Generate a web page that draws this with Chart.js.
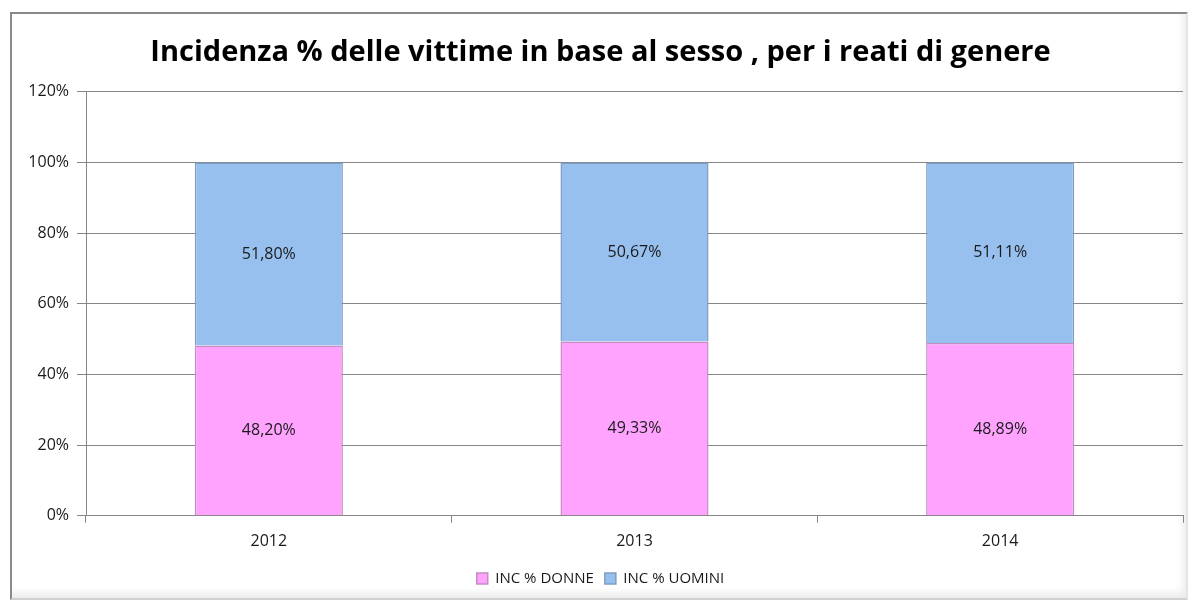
<!DOCTYPE html>
<html>
<head>
<meta charset="utf-8">
<script src="https://cdn.jsdelivr.net/npm/chart.js@4"></script>
<style>
  body { margin: 0; background: #fff; }
  #wrap { position: relative; width: 1198px; height: 604px; }
  #frame {
    position: absolute; left: 10px; top: 12px; width: 1174px; height: 584px;
    border: 2px solid #8a8a8a; border-right-color: #e4e4e4; border-bottom-color: #d0d0d0;
    box-shadow: inset -8px -10px 10px -6px #e8e8e8;
  }
  canvas { position: absolute; left: 0; top: 0; }
</style>
</head>
<body>
<div id="wrap">
  <div id="frame"></div>
  <canvas id="myChart" width="1198" height="604"></canvas>
</div>
<script>
// dati
var anni = ['2012', '2013', '2014'];
var incDonne = [48.20, 49.33, 48.89];
var incUomini = [51.80, 50.67, 51.11];
var tickY = [0, 20, 40, 60, 80, 100, 120];

// etichette dentro le barre
var etichette = {
  id: 'etichette',
  afterDatasetsDraw: function(chart) {
    var ctx = chart.ctx;
    ctx.save();
    ctx.font = '16px "Open Sans", sans-serif';
    ctx.fillStyle = '#1a1a1a';
    ctx.textAlign = 'center';
    ctx.textBaseline = 'middle';
    chart.data.datasets.forEach(function(ds, i) {
      chart.getDatasetMeta(i).data.forEach(function(bar, j) {
        var mid = (bar.y + bar.base) / 2;
        ctx.fillText(ds.data[j].toFixed(2).replace('.', ',') + '%', bar.x, mid);
      });
    });
    ctx.restore();
  }
};

new Chart(document.getElementById('myChart'), {
  type: 'bar',
  data: {
    labels: anni,
    datasets: [
      {
        label: 'INC % DONNE',
        data: incDonne,
        backgroundColor: '#FFA3FF',
        borderColor: '#C38CC3',
        borderWidth: 1.5,
        barPercentage: 0.405,
        categoryPercentage: 1
      },
      {
        label: 'INC % UOMINI',
        data: incUomini,
        backgroundColor: '#97C0EE',
        borderColor: '#7E9DC4',
        borderWidth: 1.5,
        barPercentage: 0.405,
        categoryPercentage: 1
      }
    ]
  },
  options: {
    responsive: false,
    animation: false,
    layout: { padding: { left: 18, right: 15, top: 35, bottom: 8 } },
    plugins: {
      title: {
        display: true,
        text: 'Incidenza % delle vittime in base al sesso , per i reati di genere',
        color: '#000',
        font: { family: '"Open Sans", sans-serif', size: 29, weight: 'bold' },
        padding: { top: 0, bottom: 22 }
      },
      legend: {
        position: 'bottom',
        labels: {
          color: '#1a1a1a',
          font: { family: '"Open Sans", sans-serif', size: 15 },
          boxWidth: 11,
          boxHeight: 11,
          padding: 11
        }
      },
      tooltip: { enabled: false }
    },
    scales: {
      x: {
        stacked: true,
        grid: { drawOnChartArea: false, color: '#868686', tickLength: 7, offset: true },
        border: { color: '#868686' },
        ticks: { color: '#1a1a1a', font: { family: '"Open Sans", sans-serif', size: 16 }, padding: 9 }
      },
      y: {
        stacked: true,
        min: 0,
        max: 120,
        afterBuildTicks: function(scale) {
          scale.ticks = tickY.map(function(v) { return { value: v }; });
        },
        afterFit: function(scale) { scale.width = 68; },
        grid: { color: '#868686', tickLength: 9 },
        border: { color: '#868686' },
        ticks: {
          color: '#1a1a1a',
          font: { family: '"Open Sans", sans-serif', size: 16 },
          padding: 8,
          callback: function(v) { return v + '%'; }
        }
      }
    }
  },
  plugins: [etichette]
});
</script>
</body>
</html>
